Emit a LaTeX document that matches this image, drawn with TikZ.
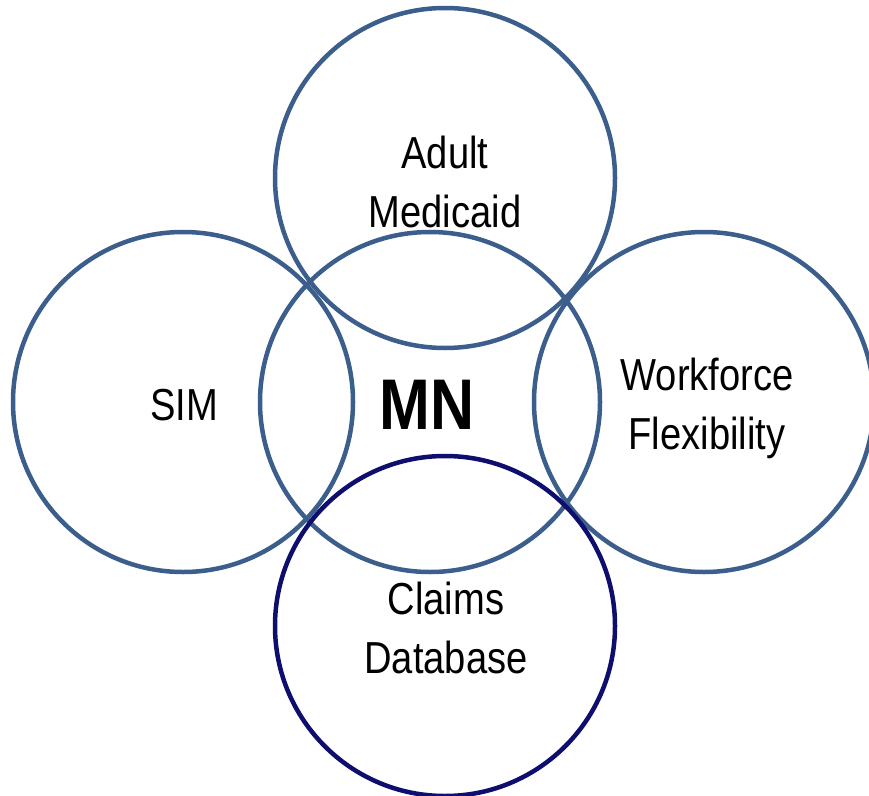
\documentclass[tikz,border=0pt]{standalone}
\usepackage{fontspec}
\setmainfont{Liberation Sans}[FakeStretch=0.85]
\definecolor{ringblue}{RGB}{59,94,140}
\definecolor{ringnavy}{RGB}{14,14,110}
\begin{document}
\begin{tikzpicture}[x=1bp,y=-1bp,
  ring/.style={circle,draw=ringblue,line width=4.5bp,minimum size=340bp,inner sep=0pt},
  lbl/.style={align=center,font=\fontsize{45}{59}\selectfont,anchor=base,inner sep=0pt},
  big/.style={font=\fontsize{72}{80}\selectfont\bfseries,inner sep=0pt}]
\useasboundingbox (0,0) rectangle (869,796);
\node[ring] (top) at (445,178) {};
\node[ring] (left) at (183,402) {};
\node[ring] (mid) at (430,402) {};
\node[ring] (right) at (704,402) {};
\node[ring,draw=ringnavy] (bottom) at (445,626) {};
\node[lbl] (tl) at (445,227) {Adult\\Medicaid};
\node[lbl] (ll) at (184,420) {SIM};
\node[lbl] (rl) at (707,449) {Workforce\\Flexibility};
\node[lbl] (bl) at (446,673) {Claims\\Database};
\node[big] (ml) at (427,405) {MN};
\end{tikzpicture}
\end{document}
